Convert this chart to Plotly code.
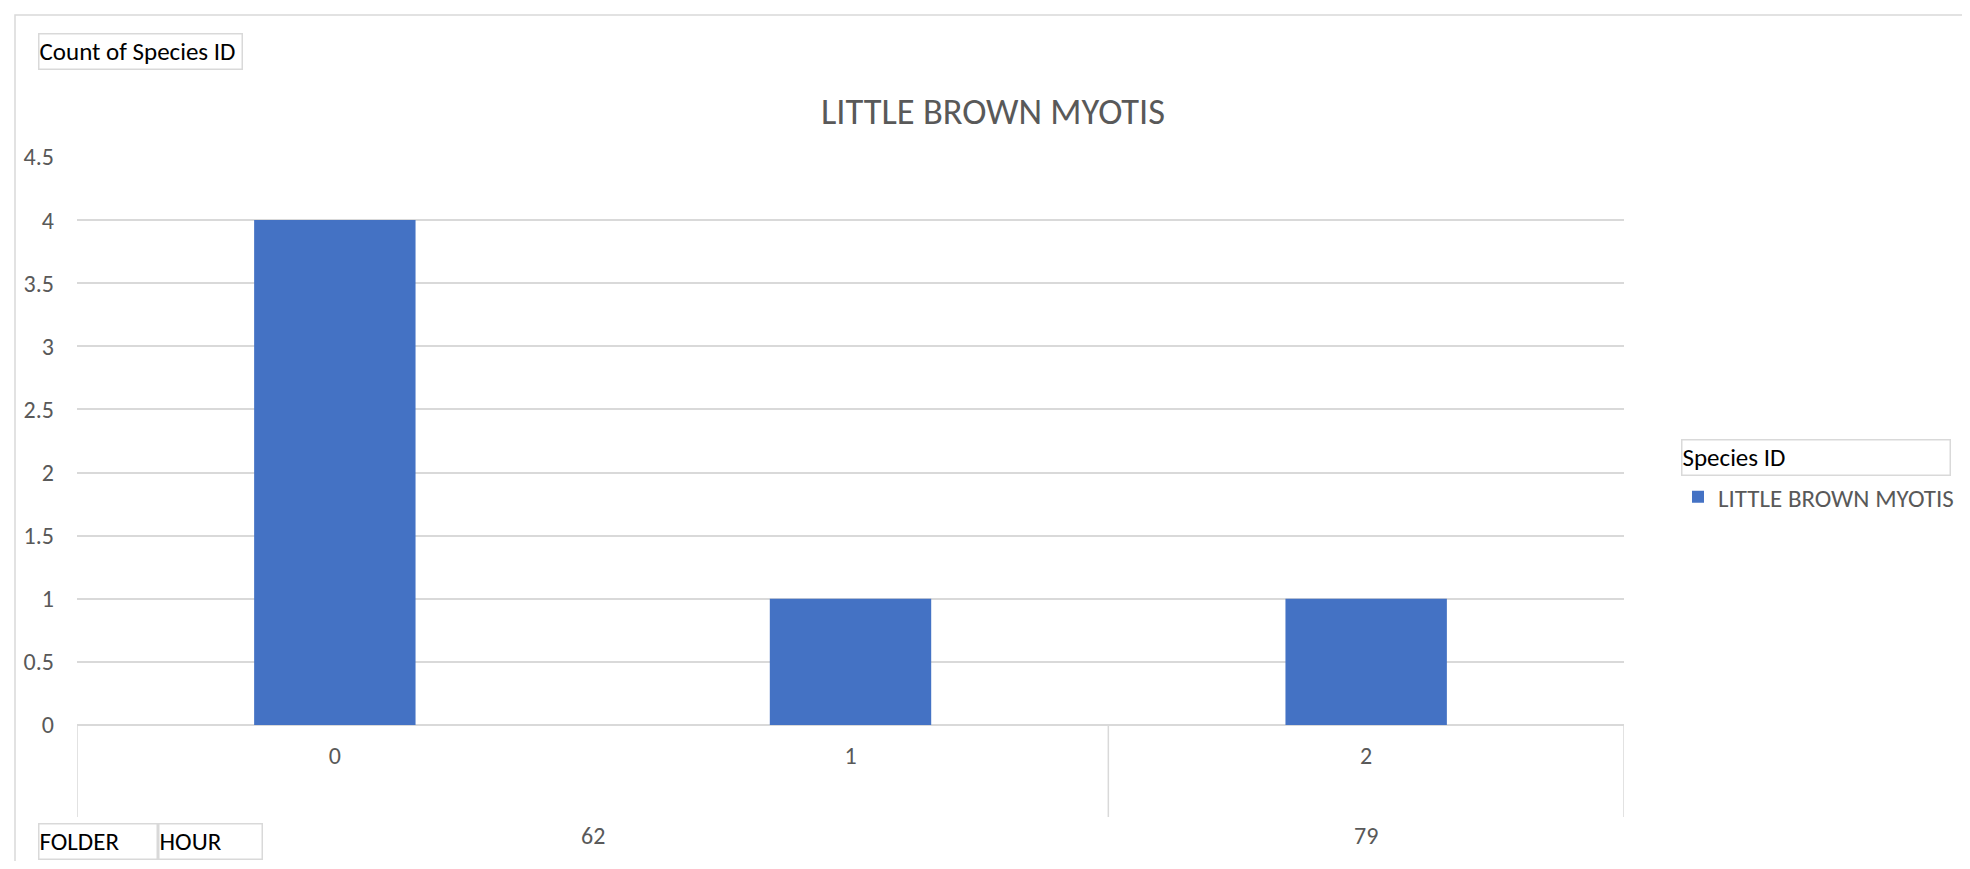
import plotly.graph_objects as go

folders = ["62", "62", "79"]
hours = ["0", "1", "2"]
counts = [4, 1, 1]
series_name = "LITTLE BROWN MYOTIS"
title_text = "LITTLE BROWN MYOTIS"
y_ticks = [0, 0.5, 1, 1.5, 2, 2.5, 3, 3.5, 4, 4.5]

OFF = 8  # page body margin of the browser
W, H = 1970 - 2 * OFF, 869 - 2 * OFF
# reference-pixel geometry of the plot area
RL, RR, RT, RB = 77, 1624, 157, 725
L, R, T, B = RL - OFF, RR - OFF, RT - OFF, RB - OFF
pw, ph = R - L, B - T


def px(x):
    return (x - OFF - L) / pw


def py(y):
    return (B - (y - OFF)) / ph


FONT = "Carlito, Calibri, Lato, sans-serif"
GRAY = "#595959"
LINE = "#d9d9d9"

fig = go.Figure()
fig.add_trace(go.Bar(
    x=hours, y=counts, name=series_name,
    marker=dict(color="#4472C4", line=dict(width=0)),
    showlegend=True,
))

fig.update_layout(
    width=W, height=H,
    margin=dict(l=L, r=W - R, t=T, b=H - B, autoexpand=False),
    paper_bgcolor="white", plot_bgcolor="white",
    bargap=0.687,
    font=dict(family=FONT, color=GRAY, size=24),
    title=dict(text=title_text, x=(993 - OFF) / W, xref="container",
               xanchor="center", y=1 - (111 - OFF) / H, yanchor="middle",
               font=dict(family=FONT, size=36.5, color=GRAY)),
    showlegend=True,
    legend=dict(x=px(1678), xanchor="left", y=py(497), yanchor="middle",
                font=dict(family=FONT, size=25, color=GRAY),
                bgcolor="rgba(0,0,0,0)", itemclick=False),
)

fig.update_yaxes(range=[0, 4.5], tickvals=y_ticks, ticktext=[f"{v:g}" for v in y_ticks],
                 showgrid=True, gridcolor=LINE, gridwidth=1.5,
                 zeroline=True, zerolinecolor=LINE, zerolinewidth=1.5,
                 showline=False, ticks="", ticklabelstandoff=22,
                 tickfont=dict(family=FONT, size=24, color=GRAY), fixedrange=True)
fig.update_xaxes(type="category", categoryorder="array", categoryarray=hours,
                 range=[-0.5, len(hours) - 0.5],
                 showgrid=False, showline=False, ticks="", ticklabelstandoff=14,
                 tickfont=dict(family=FONT, size=24, color=GRAY), fixedrange=True)

# group (FOLDER) labels and dividers, derived from the data
groups = []
for i, f in enumerate(folders):
    if groups and groups[-1][0] == f:
        groups[-1][2] = i
    else:
        groups.append([f, i, i])
bounds = [-0.5] + [g[2] + 0.5 for g in groups]
for b in bounds:
    fig.add_shape(type="line", xref="x", yref="paper", x0=b, x1=b,
                  y0=0, y1=py(817), line=dict(color=LINE, width=1.5))
for name, i0, i1 in groups:
    fig.add_annotation(text=name, xref="x", yref="paper", x=(i0 + i1) / 2,
                       y=py(835), yanchor="middle", showarrow=False,
                       font=dict(family=FONT, size=24, color=GRAY))

# outer chart border
fig.add_shape(type="rect", xref="paper", yref="paper",
              x0=px(15), x1=px(1995), y0=py(900), y1=py(15),
              line=dict(color=LINE, width=1.5), fillcolor="rgba(0,0,0,0)", layer="below")


def box(text, x0, x1, yc, h=34, size=25):
    fig.add_annotation(text=text, xref="paper", yref="paper",
                       x=px(x0), xanchor="left", y=py(yc), yanchor="middle",
                       showarrow=False, align="left", width=x1 - x0 - 3, height=h,
                       borderpad=0, bordercolor=LINE, borderwidth=1.5,
                       bgcolor="white", font=dict(family=FONT, size=size, color="black"))


box("Count of Species ID", 38, 243, 52)
box("FOLDER", 38, 158, 841)
box("HOUR", 158, 263, 841)
box("Species ID", 1681, 1951, 457)

fig.write_html("out.html")
